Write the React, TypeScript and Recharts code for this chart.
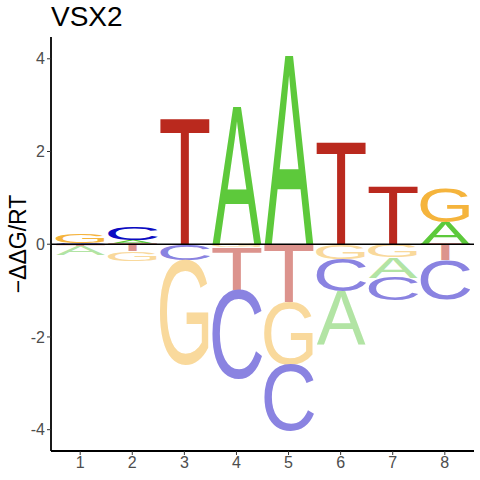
import { BarChart, Bar, XAxis, YAxis, ReferenceLine } from "recharts";

// energy logo for VSX2: one signed ddG value per base and position
const positions = [1, 2, 3, 4, 5, 6, 7, 8];
const baseA = [-0.2, 0.09, -0.02, 2.94, 4.06, -1.15, -0.43, 0.47];
const baseC = [0.03, 0.29, -0.33, -1.94, -1.44, -0.7, -0.5, -0.85];
const baseG = [0.2, -0.21, -2.28, -0.07, -1.36, -0.32, -0.29, 0.74];
const baseT = [-0.03, -0.15, 2.71, -0.91, -1.24, 2.18, 1.23, -0.35];
const yTicks = [-4, -2, 0, 2, 4];

const bases: Record<string, number[]> = { A: baseA, C: baseC, G: baseG, T: baseT };

const upColor: Record<string, string> = {
  A: "#5DC93B",
  C: "#0B0BC2",
  G: "#F5B43C",
  T: "#BA291E",
};
const downColor: Record<string, string> = {
  A: "#B2E4A4",
  C: "#8A83E1",
  G: "#F9D99C",
  T: "#DC938D",
};

// ink box of each glyph (Liberation Sans) in em units: xMin, xMax, yMin, yMax
const glyphBox: Record<string, number[]> = {
  A: [-0.0015, 0.6685, 0, 0.688],
  C: [0.05, 0.677, -0.012, 0.7],
  G: [0.055, 0.718, -0.012, 0.7],
  T: [0.022, 0.589, 0, 0.688],
};

// per position, bases sorted by size so the smallest sits next to zero
const rows = positions.map((pos, i) => {
  const row: Record<string, number | string> = { pos };
  const sorted = Object.keys(bases).sort(
    (a, b) => Math.abs(bases[a][i]) - Math.abs(bases[b][i])
  );
  sorted.forEach((b, k) => {
    row[`r${k}`] = bases[b][i];
    row[`l${k}`] = b;
  });
  return row;
});

function Letter(props: any) {
  const { x, y, width, height, payload, slot } = props;
  const letter = payload[`l${slot}`] as string;
  const value = payload[`r${slot}`] as number;
  const top = Math.min(y, y + height);
  const h = Math.abs(height);
  if (!letter || h < 0.3) return null;
  const [x0, x1, y0, y1] = glyphBox[letter];
  const fs = 100;
  const sx = width / ((x1 - x0) * fs);
  const sy = h / ((y1 - y0) * fs);
  const tx = x - x0 * fs * sx;
  const ty = top + y1 * fs * sy;
  return (
    <text
      transform={`translate(${tx},${ty}) scale(${sx},${sy})`}
      fontFamily="Liberation Sans, Arial, sans-serif"
      fontSize={fs}
      fill={value >= 0 ? upColor[letter] : downColor[letter]}
    >
      {letter}
    </text>
  );
}

export default function App() {
  return (
    <div style={{ position: "absolute", left: 0, top: 0, width: 480, height: 480 }}>
      <div
        style={{
          position: "absolute",
          left: 51,
          top: -1,
          fontFamily: "Liberation Sans, Arial, sans-serif",
          fontSize: 28,
          lineHeight: "36px",
          color: "#000",
        }}
      >
        VSX2
      </div>
      <div
        style={{
          position: "absolute",
          left: 18,
          top: 244,
          transform: "translate(-50%, -50%) rotate(-90deg)",
          fontFamily: "Liberation Sans, Arial, sans-serif",
          fontSize: 23,
          whiteSpace: "nowrap",
          color: "#000",
        }}
      >
        −ΔΔG/RT
      </div>
      <BarChart
        width={480}
        height={480}
        data={rows}
        stackOffset="sign"
        margin={{ top: 37, right: 6, bottom: 0, left: 11 }}
      >
        <XAxis
          dataKey="pos"
          type="number"
          domain={[0.44, 8.56]}
          ticks={positions}
          allowDataOverflow
          height={29}
          tickSize={4}
          axisLine={{ stroke: "#000", strokeWidth: 1.8 }}
          tickLine={{ stroke: "#333" }}
          tick={{ fill: "#4D4D4D", fontSize: 16, fontFamily: "Liberation Sans, Arial, sans-serif" }}
        />
        <YAxis
          type="number"
          domain={[-4.46, 4.47]}
          ticks={yTicks}
          allowDataOverflow
          width={40}
          tickSize={4}
          axisLine={{ stroke: "#000", strokeWidth: 1.8 }}
          tickLine={{ stroke: "#333" }}
          tick={{ fill: "#4D4D4D", fontSize: 16, fontFamily: "Liberation Sans, Arial, sans-serif" }}
        />
        {[0, 1, 2, 3].map((k) => (
          <Bar
            key={k}
            dataKey={`r${k}`}
            stackId="s"
            barSize={49}
            isAnimationActive={false}
            shape={(p: any) => <Letter {...p} slot={k} />}
          />
        ))}
        <ReferenceLine y={0} stroke="#000" strokeWidth={1.3} />
      </BarChart>
    </div>
  );
}
